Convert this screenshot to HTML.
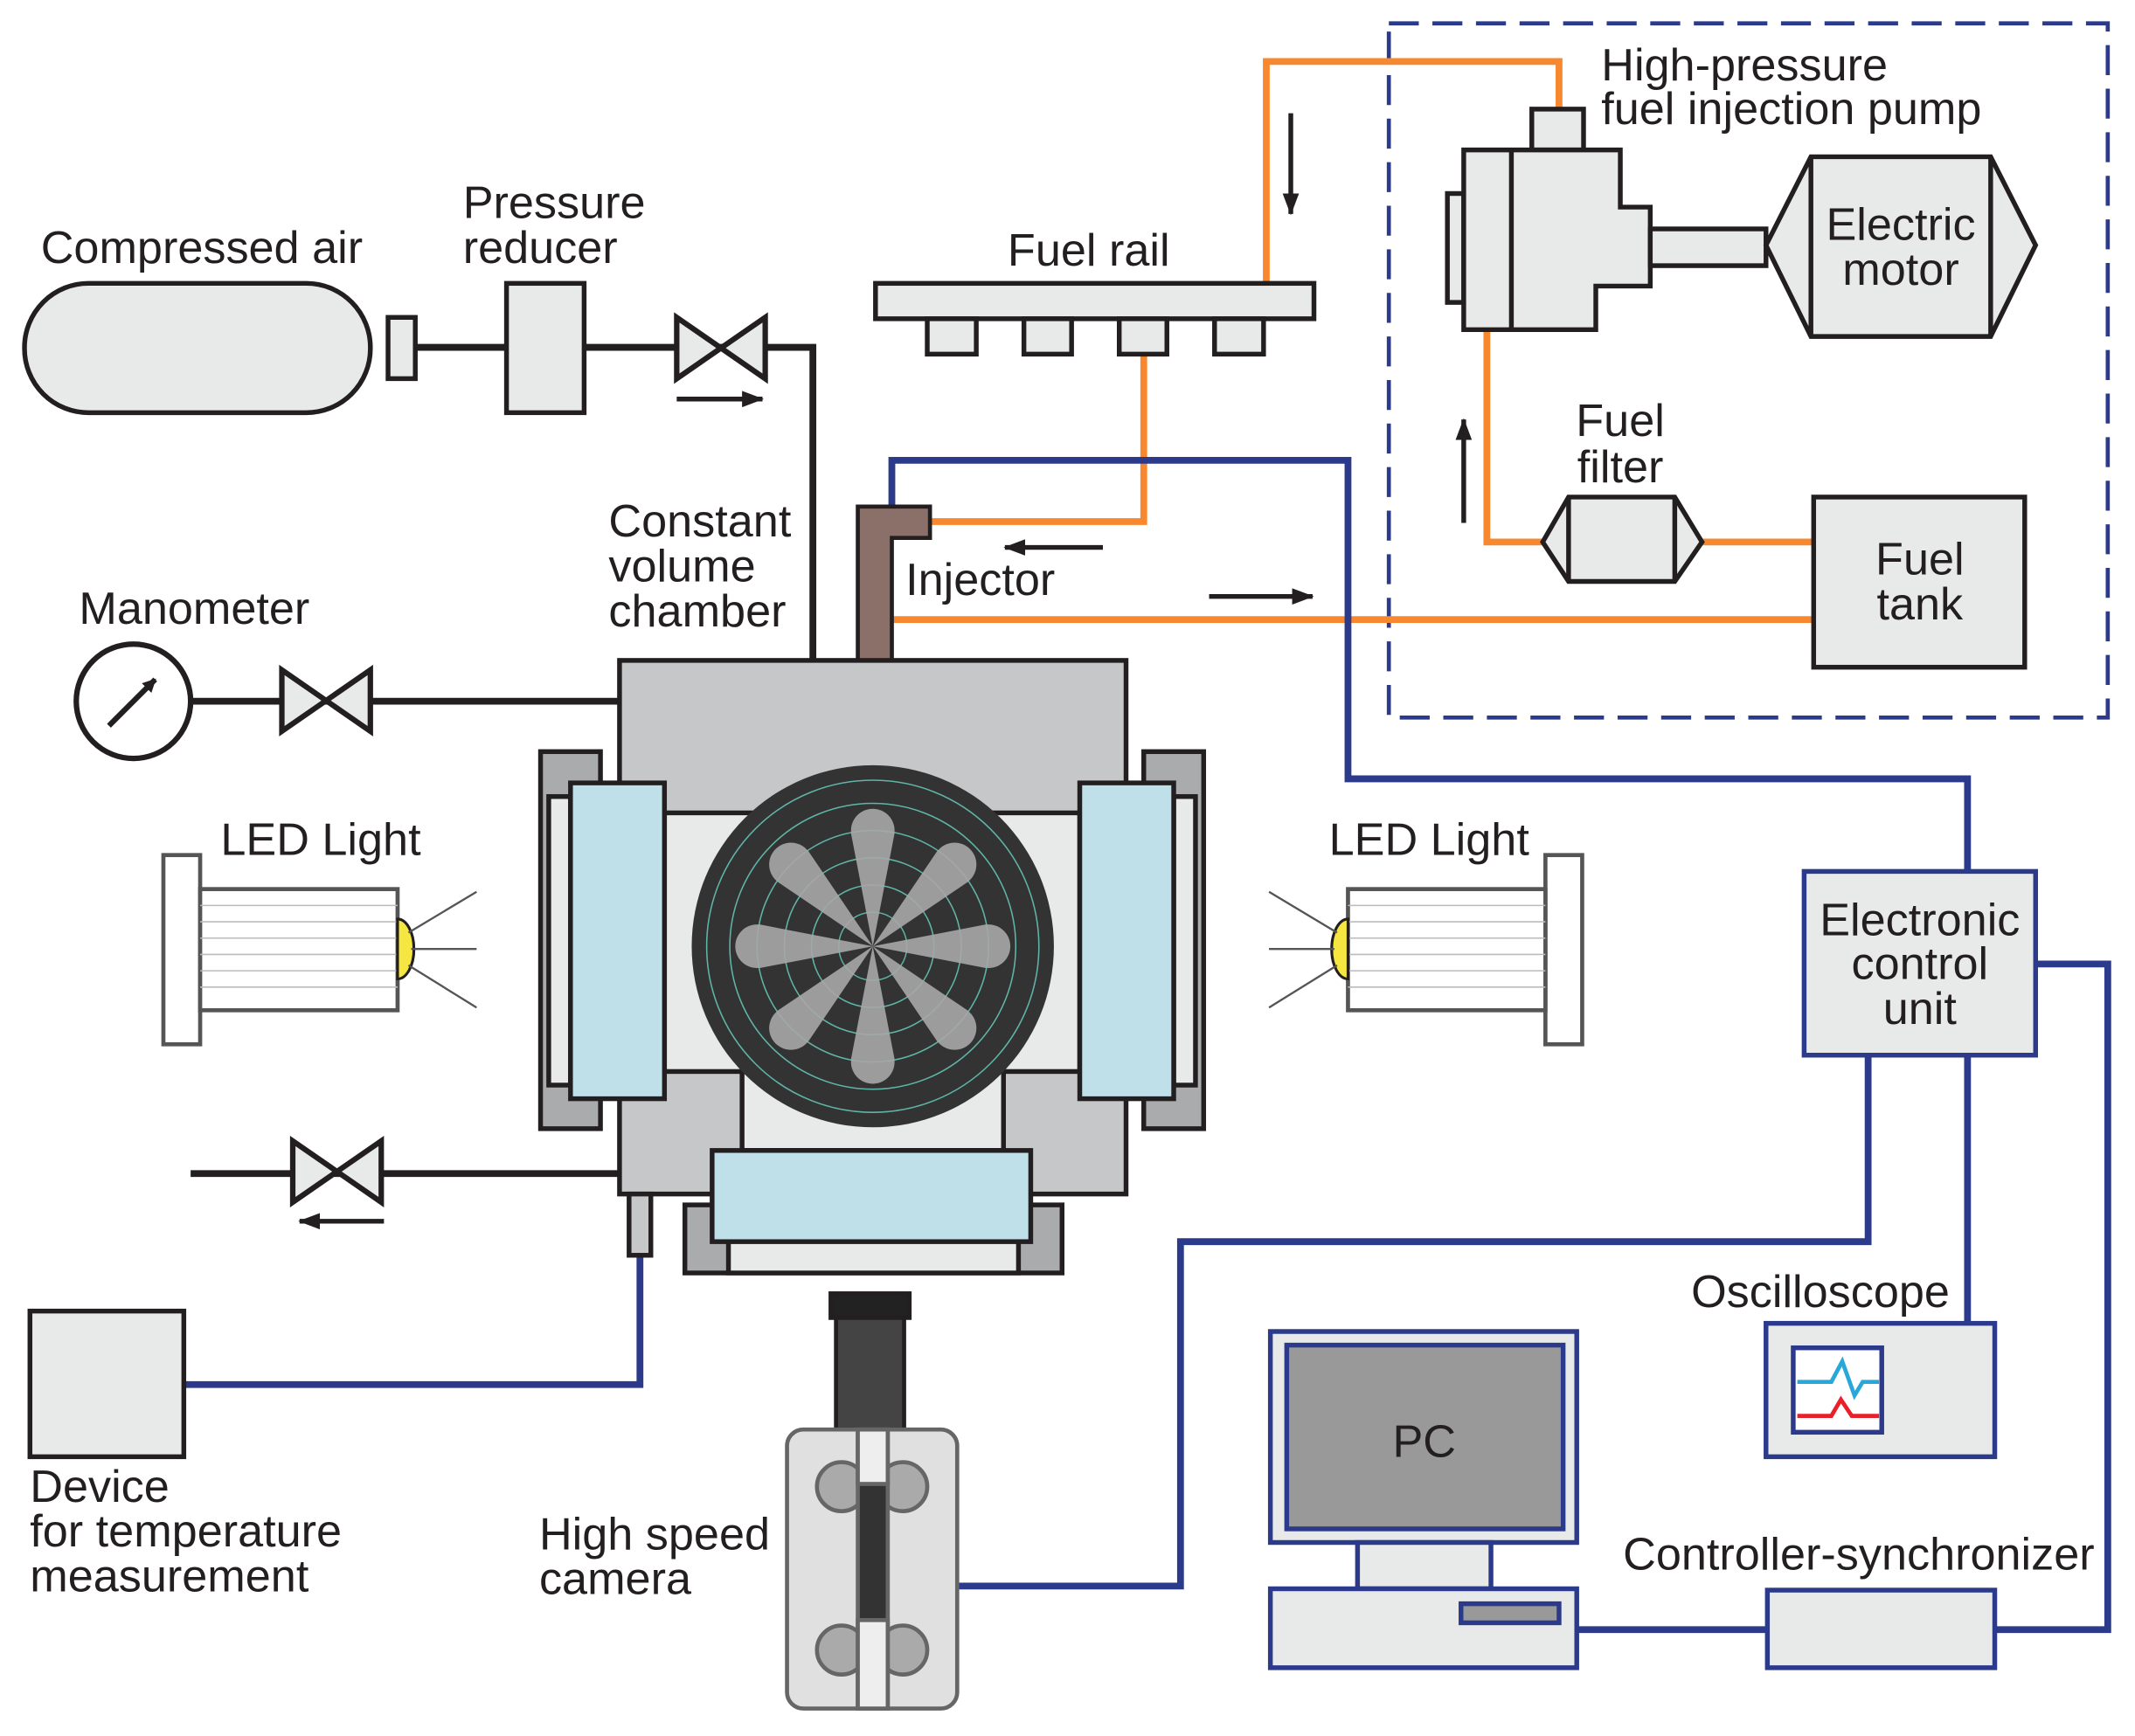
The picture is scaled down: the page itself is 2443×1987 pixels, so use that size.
<!DOCTYPE html>
<html><head><meta charset="utf-8"><style>
html,body{margin:0;padding:0;background:#fff}
svg{display:block}
text{font-family:"Liberation Sans",sans-serif;font-size:33.5px;fill:#231f20}
</style></head><body>
<svg width="2443" height="1987" viewBox="0 0 1568 1275" xmlns="http://www.w3.org/2000/svg">
<defs>
<g id="valve"><polygon points="0,0 0,45 65,0 65,45" fill="#e8eaea" stroke="#231f20" stroke-width="4" stroke-linejoin="miter"/></g>
<marker id="ah" markerWidth="16" markerHeight="12" refX="15" refY="6" orient="auto" markerUnits="userSpaceOnUse"><path d="M0,0 L16,6 L0,12 z" fill="#231f20"/></marker>
<marker id="ah2" markerWidth="10" markerHeight="10" refX="9" refY="5" orient="auto" markerUnits="userSpaceOnUse"><path d="M0,0 L10,5 L0,10 z" fill="#231f20"/></marker>
</defs>
<g fill="none" stroke-linejoin="miter">
<rect x="1020" y="17" width="528" height="510" stroke="#2b3a8a" stroke-width="3" stroke-dasharray="22,10"/>
<polyline points="305,255 597,255 597,485" stroke="#231f20" stroke-width="5"/>
<line x1="141" y1="515" x2="455" y2="515" stroke="#231f20" stroke-width="5"/>
<line x1="140" y1="862" x2="455" y2="862" stroke="#231f20" stroke-width="5"/>
<g stroke="#f7882f" stroke-width="5">
<polyline points="930,208 930,45 1145,45 1145,80"/>
<polyline points="1092,242 1092,398 1133,398"/>
<line x1="1250" y1="398" x2="1332" y2="398"/>
<line x1="1332" y1="455" x2="655" y2="455"/>
<polyline points="840,260 840,383 683,383"/>
</g>
<g stroke="#2b3a8a" stroke-width="5">
<polyline points="655,372 655,338 990,338 990,572 1445,572 1445,640"/>
<polyline points="1495,708 1548,708 1548,1197 1465,1197"/>
<line x1="1298" y1="1197" x2="1158" y2="1197"/>
<line x1="1445" y1="775" x2="1445" y2="972"/>
<polyline points="1372,775 1372,912 867,912 867,1165 703,1165"/>
<polyline points="470,922 470,1017 135,1017"/>
</g>
</g>
<g stroke="#231f20" stroke-width="3.5">
<line x1="497" y1="293" x2="560" y2="293" marker-end="url(#ah)"/>
<line x1="282" y1="897" x2="220" y2="897" marker-end="url(#ah)"/>
<line x1="948" y1="83" x2="948" y2="157" marker-end="url(#ah)"/>
<line x1="1075" y1="384" x2="1075" y2="308" marker-end="url(#ah)"/>
<line x1="810" y1="402" x2="738" y2="402" marker-end="url(#ah)"/>
<line x1="888" y1="438" x2="964" y2="438" marker-end="url(#ah)"/>
</g>
<g stroke="#231f20" stroke-width="3.5" fill="#e8eaea">
<rect x="18" y="208" width="254" height="95" rx="47"/>
<rect x="285" y="233" width="20" height="45"/>
<rect x="372" y="208" width="57" height="95"/>
<rect x="643" y="208" width="322" height="26"/>
<rect x="681" y="234" width="36" height="26"/><rect x="752" y="234" width="35" height="26"/>
<rect x="822" y="234" width="35" height="26"/><rect x="892" y="234" width="36" height="26"/>
<rect x="1125" y="80" width="38" height="30"/>
<rect x="1063" y="142" width="12" height="80"/>
<polygon points="1075,110 1190,110 1190,152 1212,152 1212,210 1172,210 1172,242 1075,242"/>
<line x1="1110" y1="110" x2="1110" y2="242"/>
<rect x="1212" y="168" width="85" height="27"/>
<polygon points="1297,180 1330,115 1462,115 1495,180 1462,247 1330,247"/>
<line x1="1330" y1="115" x2="1330" y2="247"/><line x1="1462" y1="115" x2="1462" y2="247"/>
<polygon points="1133,398 1152,365 1230,365 1250,398 1230,427 1152,427"/>
<line x1="1152" y1="365" x2="1152" y2="427"/><line x1="1230" y1="365" x2="1230" y2="427"/>
<rect x="1332" y="365" width="155" height="125"/>
<circle cx="98" cy="515" r="42" fill="#fff" stroke-width="4"/>
<rect x="22" y="963" width="113" height="107"/>
</g>
<line x1="80" y1="533" x2="114" y2="499" stroke="#231f20" stroke-width="4" marker-end="url(#ah2)"/>
<use href="#valve" x="497" y="233"/>
<use href="#valve" x="207" y="492"/>
<use href="#valve" x="215" y="838"/>
<path d="M630,372 H683 V395 H655 V485 H630 Z" fill="#8a7068" stroke="#231f20" stroke-width="3"/>
<g stroke="#231f20" stroke-width="3.5">
<rect x="397" y="552" width="44" height="277" fill="#a9abad"/>
<rect x="403" y="585" width="16" height="212" fill="#e8eaea"/>
<rect x="840" y="552" width="44" height="277" fill="#a9abad"/>
<rect x="862" y="585" width="16" height="212" fill="#e8eaea"/>
<rect x="455" y="485" width="372" height="392" fill="#c5c7c8"/>
<rect x="488" y="597" width="305" height="190" fill="#e8eaea"/>
<rect x="545" y="787" width="192" height="58" fill="#e8eaea"/>
<rect x="503" y="885" width="277" height="50" fill="#a9abad"/>
<rect x="535" y="905" width="213" height="30" fill="#e8eaea"/>
<rect x="523" y="845" width="234" height="67" fill="#bfe0e8"/>
<rect x="419" y="575" width="69" height="232" fill="#bfe0e8"/>
<rect x="793" y="575" width="69" height="232" fill="#bfe0e8"/>
<rect x="462" y="877" width="16" height="45" fill="#c5c7c8"/>
<circle cx="641" cy="695" r="133" fill="#333" stroke="none"/>
</g>
<g stroke="#5fb5a8" stroke-width="1" fill="none">
<circle cx="641" cy="695" r="25"/><circle cx="641" cy="695" r="45"/><circle cx="641" cy="695" r="65"/>
<circle cx="641" cy="695" r="85"/><circle cx="641" cy="695" r="105"/><circle cx="641" cy="695" r="122"/>
</g>
<g fill="#a8a8a8" opacity="0.9">
<g id="petal"><path d="M641,695 L625,612 A17,17 0 0 1 657,612 Z"/><circle cx="641" cy="610" r="16"/></g>
<use href="#petal" transform="rotate(45 641 695)"/><use href="#petal" transform="rotate(90 641 695)"/>
<use href="#petal" transform="rotate(135 641 695)"/><use href="#petal" transform="rotate(180 641 695)"/>
<use href="#petal" transform="rotate(225 641 695)"/><use href="#petal" transform="rotate(270 641 695)"/>
<use href="#petal" transform="rotate(315 641 695)"/>
</g>
<g id="led" stroke="#555" stroke-width="3">
<rect x="120" y="628" width="27" height="139" fill="#fff"/>
<rect x="147" y="653" width="145" height="89" fill="#fff"/>
<g stroke="#bbb" stroke-width="1"><line x1="147" y1="665" x2="292" y2="665"/><line x1="147" y1="677" x2="292" y2="677"/><line x1="147" y1="689" x2="292" y2="689"/><line x1="147" y1="701" x2="292" y2="701"/><line x1="147" y1="713" x2="292" y2="713"/><line x1="147" y1="725" x2="292" y2="725"/></g>
<path d="M292,675 A12,22 0 0 1 292,719 Z" fill="#f5e642" stroke="#231f20" stroke-width="2"/>
<g stroke="#555" stroke-width="1.5"><line x1="302" y1="697" x2="350" y2="697"/><line x1="300" y1="685" x2="350" y2="655"/><line x1="300" y1="709" x2="350" y2="740"/></g>
</g>
<use href="#led" transform="translate(1282 0) scale(-1 1)"/>
<g stroke="#2b3a8a" stroke-width="3.5" fill="#e8eaea">
<rect x="1325" y="640" width="170" height="135"/>
<rect x="1298" y="1168" width="167" height="57"/>
<rect x="1297" y="972" width="168" height="98"/>
<rect x="1317" y="990" width="65" height="62" fill="#fff"/>
<rect x="933" y="978" width="225" height="155"/>
<rect x="945" y="988" width="203" height="135" fill="#999"/>
<rect x="997" y="1133" width="98" height="34"/>
<rect x="933" y="1167" width="225" height="58"/>
<rect x="1073" y="1178" width="72" height="14" fill="#999"/>
</g>
<polyline points="1320,1015 1345,1015 1353,1000 1362,1025 1368,1015 1380,1015" fill="none" stroke="#28a8d8" stroke-width="3"/>
<polyline points="1320,1040 1345,1040 1352,1028 1360,1040 1380,1040" fill="none" stroke="#e8202a" stroke-width="3"/>
<g stroke="#231f20" stroke-width="3">
<rect x="610" y="950" width="58" height="18" fill="#222"/>
<rect x="614" y="968" width="50" height="82" fill="#444"/>
<rect x="578" y="1050" width="125" height="205" rx="12" fill="#e0e0e0" stroke="#666"/>
<circle cx="618" cy="1092" r="18" fill="#aaa" stroke="#666"/><circle cx="663" cy="1092" r="18" fill="#aaa" stroke="#666"/>
<circle cx="618" cy="1212" r="18" fill="#aaa" stroke="#666"/><circle cx="663" cy="1212" r="18" fill="#aaa" stroke="#666"/>
<rect x="630" y="1050" width="22" height="205" fill="#333" stroke="#666"/>
<rect x="630" y="1050" width="22" height="40" fill="#eee" stroke="#666"/>
<rect x="630" y="1190" width="22" height="65" fill="#eee" stroke="#666"/>
</g>
<text x="30" y="193">Compressed air</text>
<text x="340" y="160">Pressure</text><text x="340" y="193">reducer</text>
<text x="740" y="195">Fuel rail</text>
<text x="1176" y="59">High-pressure</text><text x="1176" y="91">fuel injection pump</text>
<text x="1396" y="176" text-anchor="middle">Electric</text><text x="1396" y="209" text-anchor="middle">motor</text>
<text x="1190" y="320" text-anchor="middle">Fuel</text><text x="1190" y="354" text-anchor="middle">filter</text>
<text x="1410" y="422" text-anchor="middle">Fuel</text><text x="1410" y="455" text-anchor="middle">tank</text>
<text x="447" y="394">Constant</text><text x="447" y="427">volume</text><text x="447" y="460">chamber</text>
<text x="665" y="437">Injector</text>
<text x="58" y="458">Manometer</text>
<text x="162" y="628">LED Light</text>
<text x="976" y="628">LED Light</text>
<text x="1410" y="687" text-anchor="middle">Electronic</text><text x="1410" y="719" text-anchor="middle">control</text><text x="1410" y="752" text-anchor="middle">unit</text>
<text x="1242" y="960">Oscilloscope</text>
<text x="1046" y="1070" text-anchor="middle" font-size="40">PC</text>
<text x="1192" y="1153">Controller-synchronizer</text>
<text x="22" y="1103">Device</text><text x="22" y="1136">for temperature</text><text x="22" y="1169">measurement</text>
<text x="396" y="1138">High speed</text><text x="396" y="1171">camera</text>
</svg>
</body></html>
